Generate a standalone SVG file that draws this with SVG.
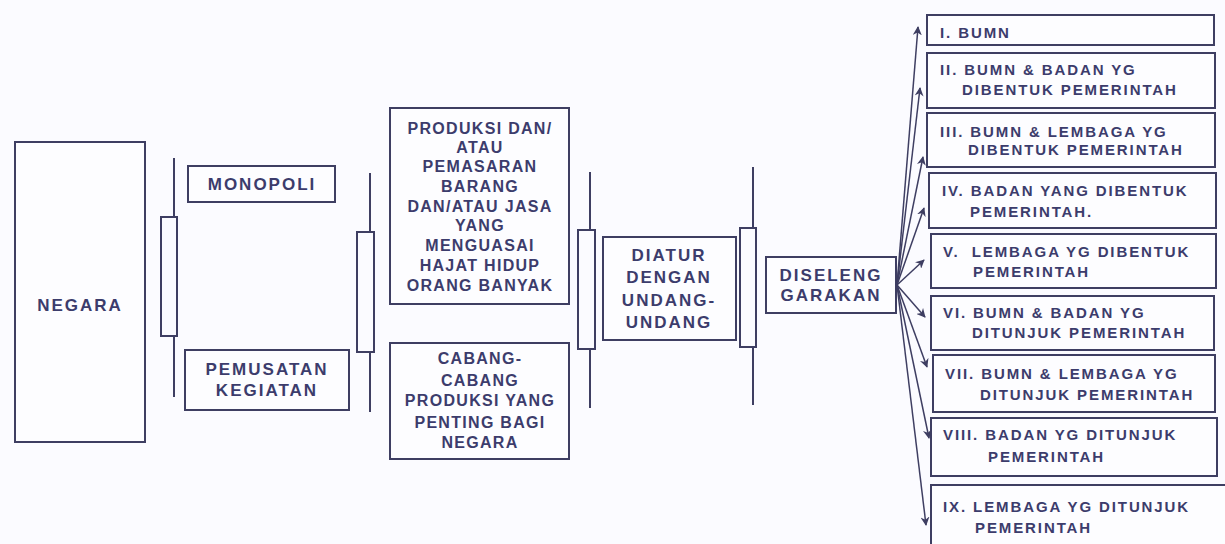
<svg xmlns="http://www.w3.org/2000/svg" width="1225" height="544" viewBox="0 0 1225 544">
<defs>
<style>
.box{fill:#fdfdff;stroke:#3e3e62;stroke-width:2}
.br{fill:none;stroke:#3e3e62;stroke-width:2}
.t{font-family:"Liberation Sans",Arial,sans-serif;font-weight:bold;fill:#3c3c6c;text-anchor:middle}
.big{font-size:17px;letter-spacing:2px}
.mid{font-size:16px;letter-spacing:1.3px}
.sm{font-family:"Liberation Sans",Arial,sans-serif;font-weight:bold;fill:#3c3c6c;font-size:15px;letter-spacing:1.9px}
.fan{fill:none;stroke:#3e3e62;stroke-width:1.5}
</style>
<marker id="ah" viewBox="0 0 10 10" refX="9" refY="5" markerWidth="9" markerHeight="9" orient="auto" markerUnits="userSpaceOnUse">
<path d="M0,0 L10,5 L0,10 L3,5 Z" fill="#3e3e62"/>
</marker>
</defs>
<rect width="1225" height="544" fill="#fbfbff"/>

<g id="negara"><rect class="box" x="15" y="142" width="130" height="300"/><text class="t big" x="80" y="311">NEGARA</text></g>
<g id="monopoli"><rect class="box" x="188" y="166" width="147" height="36"/><text class="t big" x="262" y="190">MONOPOLI</text></g>
<g id="pemusatan"><rect class="box" x="185" y="350" width="164" height="60"/><text class="t big" x="267" y="375">PEMUSATAN</text><text class="t big" x="267" y="396">KEGIATAN</text></g>
<g id="produksi"><rect class="box" x="390" y="108" width="179" height="196"/>
<text class="t mid" x="480" y="134">PRODUKSI DAN/</text>
<text class="t mid" x="480" y="153">ATAU</text>
<text class="t mid" x="480" y="172">PEMASARAN</text>
<text class="t mid" x="480" y="192">BARANG</text>
<text class="t mid" x="480" y="212">DAN/ATAU JASA</text>
<text class="t mid" x="480" y="231">YANG</text>
<text class="t mid" x="480" y="251">MENGUASAI</text>
<text class="t mid" x="480" y="271">HAJAT HIDUP</text>
<text class="t mid" x="480" y="291">ORANG BANYAK</text>
</g>
<g id="cabang"><rect class="box" x="390" y="343" width="179" height="116"/>
<text class="t mid" x="480" y="364">CABANG-</text>
<text class="t mid" x="480" y="386">CABANG</text>
<text class="t mid" x="480" y="406">PRODUKSI YANG</text>
<text class="t mid" x="480" y="428">PENTING BAGI</text>
<text class="t mid" x="480" y="448">NEGARA</text>
</g>
<g id="diatur"><rect class="box" x="603" y="237" width="133" height="103"/>
<text class="t big" x="669" y="261">DIATUR</text>
<text class="t big" x="669" y="283">DENGAN</text>
<text class="t big" x="669" y="306">UNDANG-</text>
<text class="t big" x="669" y="328">UNDANG</text>
</g>
<g id="diselenggarakan"><rect class="box" x="766" y="257" width="130" height="56"/>
<text class="t big" x="831" y="281">DISELENG</text>
<text class="t big" x="831" y="301">GARAKAN</text>
</g>

<g id="b1"><rect class="box" x="927" y="15" width="287" height="30"/><text class="sm" x="940" y="38">I. BUMN</text></g>
<g id="b2"><rect class="box" x="927" y="53" width="288" height="55"/><text class="sm" x="940" y="75">II. BUMN &amp; BADAN YG</text><text class="sm" x="962" y="95">DIBENTUK PEMERINTAH</text></g>
<g id="b3"><rect class="box" x="927" y="113" width="288" height="54"/><text class="sm" x="940" y="137">III. BUMN &amp; LEMBAGA YG</text><text class="sm" x="968" y="155">DIBENTUK PEMERINTAH</text></g>
<g id="b4"><rect class="box" x="929" y="173" width="287" height="55"/><text class="sm" x="942" y="196">IV. BADAN YANG DIBENTUK</text><text class="sm" x="970" y="217">PEMERINTAH.</text></g>
<g id="b5"><rect class="box" x="931" y="234" width="285" height="54"/><text class="sm" x="943" y="257" xml:space="preserve">V.  LEMBAGA YG DIBENTUK</text><text class="sm" x="973" y="277">PEMERINTAH</text></g>
<g id="b6"><rect class="box" x="931" y="296" width="283" height="54"/><text class="sm" x="943" y="318">VI. BUMN &amp; BADAN YG</text><text class="sm" x="972" y="338">DITUNJUK PEMERINTAH</text></g>
<g id="b7"><rect class="box" x="933" y="355" width="282" height="57"/><text class="sm" x="945" y="379">VII. BUMN &amp; LEMBAGA YG</text><text class="sm" x="980" y="400">DITUNJUK PEMERINTAH</text></g>
<g id="b8"><rect class="box" x="931" y="418" width="286" height="58"/><text class="sm" x="943" y="440">VIII. BADAN YG DITUNJUK</text><text class="sm" x="988" y="462">PEMERINTAH</text></g>
<g id="b9"><rect class="box" x="931" y="485" width="300" height="70"/><text class="sm" x="943" y="512">IX. LEMBAGA YG DITUNJUK</text><text class="sm" x="975" y="533">PEMERINTAH</text></g>

<g id="connectors">
<path class="br" d="M174,158 V217 M174,336 V397"/><rect class="br" x="161" y="217" width="16" height="119"/>
<path class="br" d="M370,173 V232 M370,352 V412"/><rect class="br" x="357" y="232" width="17" height="120"/>
<path class="br" d="M590,172 V230 M590,349 V408"/><rect class="br" x="578" y="230" width="17" height="119"/>
<path class="br" d="M753,167 V228 M753,347 V405"/><rect class="br" x="740" y="228" width="16" height="119"/>
<g marker-end="url(#ah)">
<line class="fan" x1="897" y1="285" x2="918" y2="27"/>
<line class="fan" x1="897" y1="285" x2="920" y2="88"/>
<line class="fan" x1="897" y1="285" x2="923" y2="157"/>
<line class="fan" x1="897" y1="285" x2="924" y2="208"/>
<line class="fan" x1="897" y1="285" x2="924" y2="260"/>
<line class="fan" x1="897" y1="285" x2="925" y2="317"/>
<line class="fan" x1="897" y1="285" x2="927" y2="367"/>
<line class="fan" x1="897" y1="285" x2="929" y2="438"/>
<line class="fan" x1="897" y1="285" x2="926" y2="525"/>
</g>
</g>
</svg>
